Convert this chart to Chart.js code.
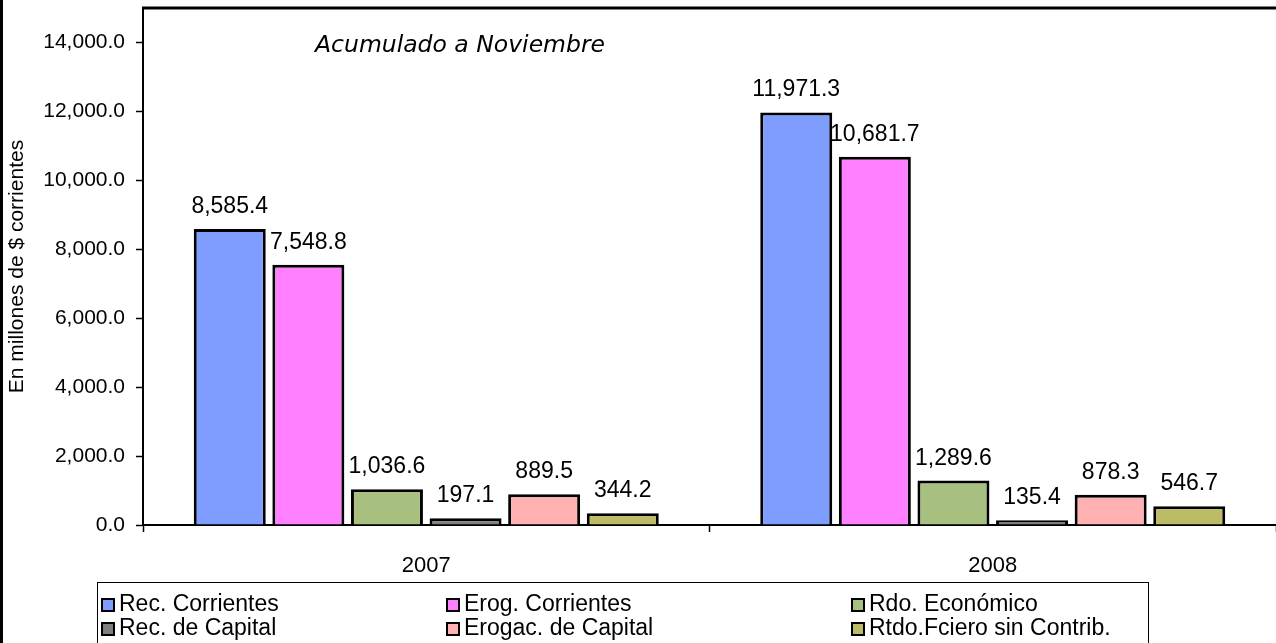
<!DOCTYPE html>
<html>
<head>
<meta charset="utf-8">
<script src="https://cdn.jsdelivr.net/npm/chart.js@4"></script>
<style>
  html, body { margin: 0; padding: 0; background: #fff; }
  canvas { display: block; }
</style>
</head>
<body>
<canvas id="resultChart" width="1276" height="643"></canvas>
<script>
const categories = ['2007', '2008'];
const seriesNames = ['Rec. Corrientes', 'Erog. Corrientes', 'Rdo. Económico',
                     'Rec. de Capital', 'Erogac. de Capital', 'Rtdo.Fciero sin Contrib.'];
const recCorrientes = [8585.4, 11971.3];
const erogCorrientes = [7548.8, 10681.7];
const rdoEconomico = [1036.6, 1289.6];
const recCapital = [197.1, 135.4];
const erogCapital = [889.5, 878.3];
const rtdoFciero = [344.2, 546.7];
const yTickValues = [0, 2000, 4000, 6000, 8000, 10000, 12000, 14000];
const yMax = 15000;

const colors = ['#7f9cff', '#ff80ff', '#a7bf7f', '#7f7f7f', '#ffb0b0', '#bcbc66'];
const FONT = '"Liberation Sans", Arial, sans-serif';

const fmt = v => v.toLocaleString('en-US', { minimumFractionDigits: 1, maximumFractionDigits: 1 });

const allSeries = [recCorrientes, erogCorrientes, rdoEconomico, recCapital, erogCapital, rtdoFciero];

// value labels above the bars
const valueLabels = {
    id: 'valueLabels',
    afterDatasetsDraw(chart) {
        const ctx = chart.ctx;
        ctx.save();
        ctx.font = '23px ' + FONT;
        ctx.fillStyle = '#000';
        ctx.textAlign = 'center';
        ctx.textBaseline = 'alphabetic';
        chart.data.datasets.forEach((ds, i) => {
            chart.getDatasetMeta(i).data.forEach((bar, j) => {
                ctx.fillText(fmt(ds.data[j]), bar.x, bar.y - 16);
            });
        });
        ctx.restore();
    }
};

// frame lines, note and legend box
const decorations = {
    id: 'decorations',
    afterDraw(chart) {
        const ctx = chart.ctx;
        const area = chart.chartArea;
        ctx.save();
        // plot top border
        ctx.strokeStyle = '#000';
        ctx.lineWidth = 3;
        ctx.beginPath();
        ctx.moveTo(area.left - 1, area.top);
        ctx.lineTo(chart.width, area.top);
        ctx.stroke();
        // outer left border
        ctx.beginPath();
        ctx.moveTo(1.5, 0);
        ctx.lineTo(1.5, chart.height);
        ctx.stroke();

        // note
        ctx.font = 'italic 23.5px "DejaVu Sans", sans-serif';
        ctx.fillStyle = '#000';
        ctx.textAlign = 'left';
        ctx.textBaseline = 'middle';
        ctx.fillText('Acumulado a Noviembre', area.left + 172, 46);

        // legend
        ctx.lineWidth = 1;
        ctx.strokeRect(97.5, 582.5, 1051, 80);
        const colX = [102, 447, 852];
        const rowY = [605, 629];
        ctx.font = '23px ' + FONT;
        chart.data.datasets.forEach((ds, i) => {
            const x = colX[i % 3];
            const y = rowY[Math.floor(i / 3)];
            ctx.fillStyle = ds.backgroundColor;
            ctx.fillRect(x, y - 6, 12, 12);
            ctx.lineWidth = 2;
            ctx.strokeRect(x, y - 6, 12, 12);
            ctx.fillStyle = '#000';
            ctx.fillText(ds.label, x + 17, y);
        });
        ctx.restore();
    }
};

new Chart(document.getElementById('resultChart'), {
    type: 'bar',
    data: {
        labels: categories,
        datasets: allSeries.map((values, i) => ({
            label: seriesNames[i],
            data: values,
            backgroundColor: colors[i],
            borderColor: '#000',
            borderWidth: 3,
            categoryPercentage: 0.8325,
            barPercentage: 0.916
        }))
    },
    options: {
        responsive: false,
        animation: false,
        layout: { padding: { top: 8, right: 0, bottom: 0, left: 0 } },
        plugins: {
            legend: { display: false },
            tooltip: { enabled: false }
        },
        scales: {
            x: {
                grid: {
                    display: true,
                    drawOnChartArea: false,
                    drawTicks: true,
                    tickLength: 7,
                    tickColor: '#000',
                    tickWidth: 1.5
                },
                border: { color: '#000', width: 2 },
                ticks: {
                    color: '#000',
                    font: { family: FONT, size: 22 },
                    padding: 21
                },
                afterFit(scale) {
                    scale.height = 118;
                    scale.paddingLeft = 0;
                    scale.paddingRight = 0;
                }
            },
            y: {
                min: 0,
                max: yMax,
                grid: {
                    display: true,
                    drawOnChartArea: false,
                    drawTicks: true,
                    tickLength: 7,
                    tickColor: '#000',
                    tickWidth: 1.5
                },
                border: { color: '#000', width: 2 },
                ticks: {
                    color: '#000',
                    font: { family: FONT, size: 21 },
                    padding: 11,
                    callback: v => fmt(v)
                },
                afterBuildTicks(scale) {
                    scale.ticks = yTickValues.map(v => ({ value: v }));
                },
                title: {
                    display: true,
                    text: 'En millones de $ corrientes',
                    color: '#000',
                    font: { family: FONT, size: 21 },
                    padding: { top: 5, bottom: 0 }
                },
                afterFit(scale) {
                    scale.width = 143;
                    scale.paddingTop = 0;
                    scale.paddingBottom = 0;
                }
            }
        }
    },
    plugins: [valueLabels, decorations]
});
</script>
</body>
</html>
